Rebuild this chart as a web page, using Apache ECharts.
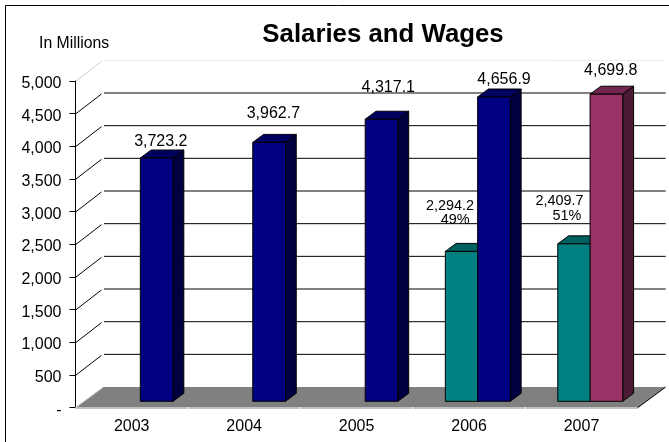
<!DOCTYPE html>
<html>
<head>
<meta charset="utf-8">
<style>html,body{margin:0;padding:0;background:#fff}#c{width:669px;height:442px}</style>
<script src="https://cdn.jsdelivr.net/npm/echarts@6/dist/echarts.min.js"></script>
</head>
<body>
<div id="c"></div>
<script>
var titleText = 'Salaries and Wages';
var unitText = 'In Millions';
var years = ['2003', '2004', '2005', '2006', '2007'];
var yTicks = [500, 1000, 1500, 2000, 2500, 3000, 3500, 4000, 4500, 5000];
var tealValues = [null, null, null, 2294.2, 2409.7];
var blueValues = [3723.2, 3962.7, 4317.1, 4656.9, null];
var plumValues = [null, null, null, null, 4699.8];
var tealShares = [null, null, null, '49%', '51%'];

var FONT = '"Liberation Sans", Arial, sans-serif';
var SLOT_X = [-23.7, 8.6], BAR_W = 32.7, BAR_DX = 10.8, BAR_DY = 8, BAR_LIFT = 6.4;
var WALL_DX = 28, WALL_DY = 20.67;
// label offsets from [category centre, value height] (hand-placed in the original)
var blueLabelPos = [[29.1, -22.4], [29.2, -35.1], [31.7, -37.6], [35, -23.4], null];
var plumLabelPos = [null, null, null, null, [29.3, -29.6]];
var tealLabelPos = [null, null, null, [-19, -51.6], [-22, -49.7]];
var tealSharePos = [null, null, null, [-14, -37.3], [-14.7, -34.7]];

function pairs(arr) {
  var out = [];
  arr.forEach(function (v, i) { if (v !== null) out.push([i, v]); });
  return out;
}
function fmt(v) {
  return v.toLocaleString('en-US', { minimumFractionDigits: 1, maximumFractionDigits: 1 });
}
function barSeries(values, slot, front, top, side) {
  return {
    type: 'custom', coordinateSystem: 'cartesian2d', clip: false, z: 5, silent: true,
    data: pairs(values),
    renderItem: function (params, api) {
      var p = api.coord([api.value(0), api.value(1)]);
      var base = api.coord([api.value(0), 0])[1] - BAR_LIFT;
      var x0 = p[0] + SLOT_X[slot], x1 = x0 + BAR_W, y0 = p[1] - BAR_LIFT;
      var edge = { stroke: '#000', lineWidth: 1 };
      return {
        type: 'group',
        children: [
          { type: 'polygon', shape: { points: [[x1, y0], [x1 + BAR_DX, y0 - BAR_DY], [x1 + BAR_DX, base - BAR_DY], [x1, base]] }, style: Object.assign({ fill: side }, edge) },
          { type: 'polygon', shape: { points: [[x0, y0], [x0 + BAR_DX, y0 - BAR_DY], [x1 + BAR_DX, y0 - BAR_DY], [x1, y0]] }, style: Object.assign({ fill: top }, edge) },
          { type: 'rect', shape: { x: x0, y: y0, width: BAR_W, height: base - y0 }, style: Object.assign({ fill: front }, edge) }
        ]
      };
    }
  };
}
function labelSeries(values, textOf, posArr, size) {
  return {
    type: 'custom', coordinateSystem: 'cartesian2d', clip: false, z: 8, silent: true,
    data: pairs(values),
    renderItem: function (params, api) {
      var i = api.value(0), v = api.value(1);
      var p = api.coord([i, v]);
      var o = posArr[i];
      return {
        type: 'text',
        style: {
          x: p[0] + o[0], y: p[1] + o[1], text: textOf(i, v), fill: '#000',
          font: size + 'px ' + FONT, textAlign: 'center', textVerticalAlign: 'middle'
        }
      };
    }
  };
}

var chart = echarts.init(document.getElementById('c'), null, { renderer: 'canvas' });
chart.setOption({
  animation: false,
  backgroundColor: '#fff',
  title: [
    { text: titleText, left: 383, top: 22, padding: 0, textAlign: 'center', textStyle: { fontFamily: FONT, fontSize: 25.8, fontWeight: 'bold', color: '#000' } },
    { text: unitText, left: 39, top: 36, padding: 0, textStyle: { fontFamily: FONT, fontSize: 15.8, fontWeight: 'normal', color: '#000' } }
  ],
  grid: { left: 75.5, top: 81, width: 562.2, height: 326.7, containLabel: false },
  xAxis: {
    type: 'category', data: years, boundaryGap: true,
    axisLine: { show: false }, axisTick: { show: false },
    axisLabel: { fontFamily: FONT, fontSize: 16, color: '#000', margin: 11 }
  },
  yAxis: {
    type: 'value', min: 0, max: 5000, interval: 500,
    axisLine: { show: true, lineStyle: { color: '#000', width: 1 } },
    axisTick: { show: true, length: 6, lineStyle: { color: '#000', width: 1 } },
    splitLine: { show: false },
    axisLabel: {
      color: '#000', margin: 14,
      formatter: function (v) { return '{a|' + (v === 0 ? '-' : v.toLocaleString('en-US')) + '}'; },
      rich: { a: { fontFamily: FONT, fontSize: 16, color: '#000', padding: [5, 0, 0, 0] } }
    }
  },
  graphic: [
    { type: 'polyline', z: -1, silent: true, shape: { points: [[5.5, 442], [5.5, 5.5], [669, 5.5]] }, style: { stroke: '#000', lineWidth: 1, fill: null } }
  ],
  series: [
    { // floor
      type: 'custom', coordinateSystem: 'cartesian2d', clip: false, z: 1, silent: true,
      data: [[0, 0]],
      renderItem: function (params, api) {
        var cs = params.coordSys;
        var y = api.coord([0, 0])[1], xl = cs.x, xr = cs.x + cs.width;
        var kids = [
          { type: 'polygon', shape: { points: [[xl, y], [xl + WALL_DX, y - WALL_DY], [xr + WALL_DX, y - WALL_DY], [xr, y]] }, style: { fill: '#808080' } },
          { type: 'line', shape: { x1: xl, y1: y + 0.3, x2: xr, y2: y + 0.3 }, style: { stroke: '#c0c0c0', lineWidth: 2 } },
          { type: 'line', shape: { x1: xr, y1: y, x2: xr + WALL_DX, y2: y - WALL_DY }, style: { stroke: '#000', lineWidth: 1 } },
          { type: 'line', shape: { x1: xl, y1: y, x2: xl + WALL_DX, y2: y - WALL_DY }, style: { stroke: '#c8c8c8', lineWidth: 1 } }
        ];
        for (var i = 1; i < years.length; i++) {
          var tx = xl + cs.width * i / years.length;
          kids.push({ type: 'line', shape: { x1: tx, y1: y - 0.7, x2: tx, y2: y + 1.3 }, style: { stroke: '#fff', lineWidth: 1 } });
        }
        return { type: 'group', children: kids };
      }
    },
    { // back-wall gridlines and side-wall diagonals
      type: 'custom', coordinateSystem: 'cartesian2d', clip: false, z: 1, silent: true,
      data: yTicks.map(function (v) { return [0, v]; }),
      renderItem: function (params, api) {
        var cs = params.coordSys, v = api.value(1);
        var y = api.coord([0, v])[1], xl = cs.x, xr = cs.x + cs.width;
        var top = v === 5000;
        return {
          type: 'group',
          children: [
            { type: 'line', shape: { x1: xl + 0.5, y1: y, x2: xl + 26, y2: y - 19.7 }, style: { stroke: top ? '#d0d0d0' : '#000', lineWidth: 1 } },
            { type: 'line', shape: { x1: xl + WALL_DX + 0.5, y1: y - WALL_DY, x2: xr + WALL_DX, y2: y - WALL_DY }, style: { stroke: top ? '#eeeeee' : '#000', lineWidth: 1 } }
          ]
        };
      }
    },
    barSeries(tealValues, 0, '#008080', '#006060', '#004040'),
    barSeries(blueValues, 1, '#000080', '#000060', '#000040'),
    barSeries(plumValues, 1, '#993366', '#73264d', '#4d1a33'),
    labelSeries(blueValues, function (i, v) { return fmt(v); }, blueLabelPos, 16),
    labelSeries(plumValues, function (i, v) { return fmt(v); }, plumLabelPos, 16),
    labelSeries(tealValues, function (i, v) { return fmt(v); }, tealLabelPos, 14.4),
    labelSeries(tealValues, function (i) { return tealShares[i]; }, tealSharePos, 14.4)
  ]
});
</script>
</body>
</html>
